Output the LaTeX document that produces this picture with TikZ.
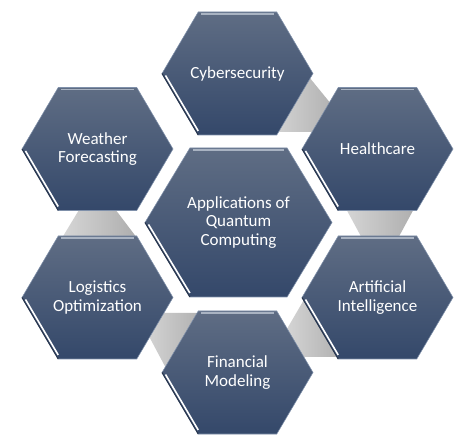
\documentclass[tikz,border=0pt]{standalone}
\usepackage{fontspec}
\setmainfont{Carlito}
\definecolor{hexTop}{HTML}{5F6D84}
\definecolor{hexBottom}{HTML}{34486A}
\definecolor{hexRim}{HTML}{7F90AA}
\definecolor{hexDark}{HTML}{26344C}
\definecolor{hexShine}{HTML}{A9B3C2}

\tikzset{
  hexbody/.style={top color=hexTop, bottom color=hexBottom, draw=hexRim, line width=0.4pt},
  hexshine/.style={draw=hexShine, line width=1pt},
  hexdark/.style={draw=hexDark, line width=0.8pt},
  hexbevel/.style={draw=white, line width=1.2pt},
  hexlabel/.style={text=white, align=center, font=\fontsize{12.75}{13.9}\selectfont},
  band/.style={left color=black!16, right color=black!32},
}

\newcommand{\hexcell}[3]{%
  \begin{scope}[shift={(#1)}]
    \path[hexbody] (-#2,0) -- (-0.52*#2,#3) -- (0.52*#2,#3) -- (#2,0) -- (0.52*#2,-#3) -- (-0.52*#2,-#3) -- cycle;
    \draw[hexshine] (-0.52*#2+3,-#3+2) -- (0.52*#2-3,-#3+2);
    \draw[hexdark] (-#2,0) -- (-0.52*#2,#3);
    \draw[hexbevel] (-#2+3.5,2) -- (-0.52*#2,#3-4);
  \end{scope}}

\begin{document}
\begin{tikzpicture}[x=0.75pt, y=-0.75pt]

                \useasboundingbox[fill=white] (0,0) rectangle (474,448);

                \coordinate (cyberC) at (237.5,73.5);
                \coordinate (healthC) at (377.5,149);
                \coordinate (aiC) at (377.5,297.5);
                \coordinate (financeC) at (237.5,372.5);
                \coordinate (logisticsC) at (97.5,297.5);
                \coordinate (weatherC) at (97.5,149);
                \coordinate (quantumC) at (238.5,222.5);

                \path[band] (305,72) -- (340,115) -- (320,132) -- (270,132) -- cycle;
                \path[band] (344,205) -- (416,205) -- (396,242) -- (364,242) -- cycle;
                \path[band] (305,298) -- (345,357) -- (295,357) -- (284,334) -- cycle;
                \path[band] (155,313) -- (205,313) -- (168,372) -- (143,325) -- cycle;
                \path[band] (82,205) -- (112,205) -- (137,238) -- (62,238) -- cycle;

                \hexcell{cyberC}{75.5}{61.5}
                \hexcell{healthC}{75.5}{61.5}
                \hexcell{aiC}{75.5}{61.5}
                \hexcell{financeC}{75.5}{61.5}
                \hexcell{logisticsC}{75.5}{61.5}
                \hexcell{weatherC}{75.5}{61.5}
                \hexcell{quantumC}{93.5}{74.5}

                \node[hexlabel] (cyber) at (cyberC) {Cybersecurity};
                \node[hexlabel] (health) at (healthC) {Healthcare};
                \node[hexlabel] (ai) at (aiC) {Artificial\\Intelligence};
                \node[hexlabel] (finance) at (financeC) {Financial\\Modeling};
                \node[hexlabel] (logistics) at (logisticsC) {Logistics\\Optimization};
                \node[hexlabel] (weather) at (weatherC) {Weather\\Forecasting};
                \node[hexlabel] (quantum) at (quantumC) {Applications of\\Quantum\\Computing};
            \end{tikzpicture}
\end{document}
